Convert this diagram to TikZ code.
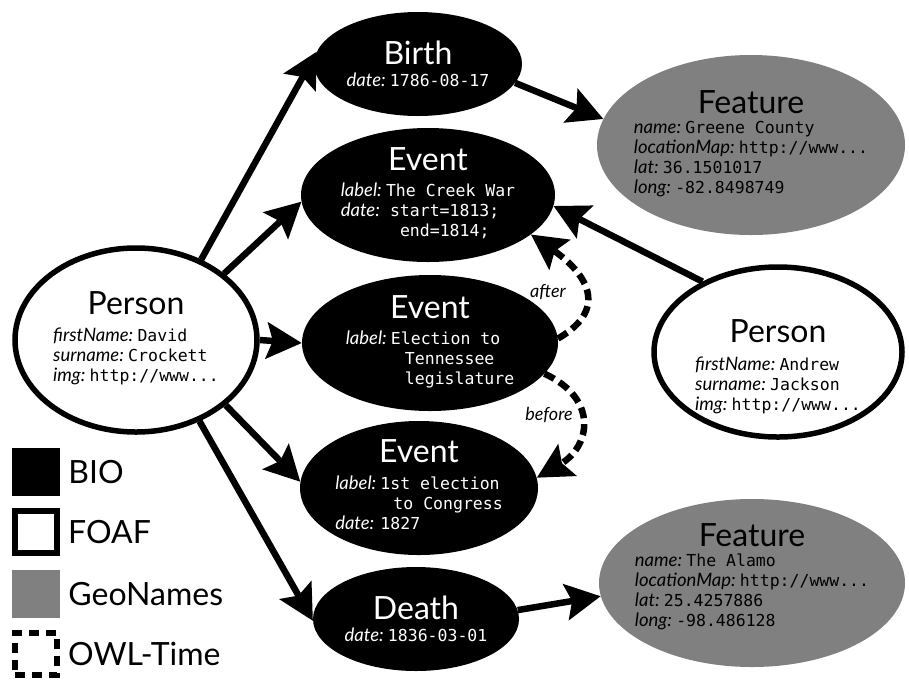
\documentclass[tikz,border=0pt]{standalone}
\usepackage{fontspec}
\setmainfont{Lato}
\setmonofont{DejaVu Sans Mono}
\usepackage{tikz}
\usetikzlibrary{positioning, arrows.meta, shapes.geometric}

\definecolor{geogray}{gray}{0.5}
\newcommand{\titlefont}{\fontsize{32}{36}\selectfont}
\newcommand{\bodyfont}{\fontsize{16.5}{20}\selectfont}
\newcommand{\keyfont}{\fontsize{18.5}{20}\selectfont\itshape}
\newcommand{\attr}[2]{{\keyfont #1:}~\texttt{#2}}
\newcommand{\attrkey}[1]{{\keyfont #1:}}

\tikzset{
    bio/.style={ellipse, fill=black, inner sep=0pt},
    foaf/.style={ellipse, draw=black, line width=5.5pt, fill=white, inner sep=0pt},
    geo/.style={ellipse, fill=geogray, inner sep=0pt},
    info/.style={align=center, font=\bodyfont, inner sep=0pt},
    arrow/.style={-{Stealth[length=35pt, width=36pt, inset=6pt]}, line width=6.5pt},
    timearrow/.style={arrow, dash pattern=on 11pt off 6pt},
    tag/.style={font=\fontsize{18}{20}\selectfont\itshape},
    keybox/.style={minimum size=48pt, inner sep=0pt},
    keytext/.style={font=\titlefont, inner sep=0pt, anchor=west}
}

\begin{document}
\begin{tikzpicture}[x=1pt, y=1pt]
    \useasboundingbox (0,0) rectangle (909,-681);

    % People (FOAF)
    \node[foaf, minimum width=242pt, minimum height=184pt,
        label={[info, name=crockett-text]center:{{\titlefont Person}\\[7pt]
            \begin{tabular}[t]{@{}l@{}}
            \attr{firstName}{David}\\
            \attr{surname}{Crockett}\\
            \attr{img}{http://www...}
            \end{tabular}}}] (crockett) at (136,-340) {};

    \node[foaf, minimum width=248pt, minimum height=170pt,
        label={[info, name=jackson-text, yshift=-16pt]center:{{\titlefont Person}\\[8pt]
            \begin{tabular}[t]{@{}l@{}}
            \attr{firstName}{Andrew}\\
            \attr{surname}{Jackson}\\
            \attr{img}{http://www...}
            \end{tabular}}}] (jackson) at (778,-352) {};

    % Life events (BIO)
    \node[bio, minimum width=208pt, minimum height=104pt,
        label={[info, text=white, name=birth-text]center:{{\titlefont Birth}\\[2pt]
            \attr{date}{1786-08-17}}}] (birth) at (418,-64) {};

    \node[bio, minimum width=254pt, minimum height=134pt,
        label={[info, text=white, name=creek-text]center:{{\titlefont Event}\\[6pt]
            \begin{tabular}[t]{@{}l@{~}l@{}}
            \attrkey{label} & \texttt{The Creek War}\\
            \attrkey{date} & \texttt{\hspace{4pt}start=1813;}\\
             & \texttt{\hspace{14pt}end=1814;}
            \end{tabular}}}] (creek) at (428,-195) {};

    \node[bio, minimum width=256pt, minimum height=136pt,
        label={[info, text=white, name=election-text]center:{{\titlefont Event}\\[6pt]
            \begin{tabular}[t]{@{}l@{~}l@{}}
            \attrkey{label} & \texttt{Election to}\\
             & \texttt{\hspace{14pt}Tennessee}\\
             & \texttt{\hspace{14pt}legislature}
            \end{tabular}}}] (election) at (430,-343) {};

    \node[bio, minimum width=238pt, minimum height=134pt,
        label={[info, text=white, name=congress-text]center:{{\titlefont Event}\\[7pt]
            \begin{tabular}[t]{@{}l@{~}l@{}}
            \attrkey{label} & \texttt{1st election}\\
             & \texttt{\hspace{13pt}to Congress}\\
            \attrkey{date} & \texttt{1827}
            \end{tabular}}}] (congress) at (419,-488) {};

    \node[bio, minimum width=206pt, minimum height=104pt,
        label={[info, text=white, name=death-text]center:{{\titlefont Death}\\[2pt]
            \attr{date}{1836-03-01}}}] (death) at (416,-619) {};

    % Places (GeoNames)
    \node[geo, minimum width=308pt, minimum height=180pt,
        label={[info, name=greene-text]center:{{\titlefont Feature}\\[0pt]
            \begin{tabular}[t]{@{}l@{}}
            \attr{name}{Greene County}\\
            \attr{locationMap}{http://www...}\\
            \attr{lat}{36.1501017}\\
            \attr{long}{-82.8498749}
            \end{tabular}}}] (greene) at (751,-145) {};

    \node[geo, minimum width=306pt, minimum height=168pt,
        label={[info, name=alamo-text, yshift=5pt]center:{{\titlefont Feature}\\[0pt]
            \begin{tabular}[t]{@{}l@{}}
            \attr{name}{The Alamo}\\
            \attr{locationMap}{http://www...}\\
            \attr{lat}{25.4257886}\\
            \attr{long}{-98.486128}
            \end{tabular}}}] (alamo) at (752,-583) {};

    % Links
    \draw[arrow] (crockett.51) -- (birth.173);
    \draw[arrow] (crockett.37) -- (creek.183);
    \draw[arrow] (crockett.east) -- (election.west);
    \draw[arrow] (crockett.-36) -- (congress.177);
    \draw[arrow] (crockett.-52) -- (death.181);
    \draw[arrow] (birth.-11) -- (greene.170);
    \draw[arrow] (death.5) -- (alamo.185);
    \draw[arrow] (jackson.137) -- (creek.-5);

    % Time relations (OWL-Time)
    \draw[timearrow] (election.2) to[out=30, in=-35, looseness=1.5] (creek.-21);
    \draw[timearrow] (election.-15) to[out=-25, in=30, looseness=1.5] (congress.5);
    \node[tag] (after-tag) at (548,-292) {after};
    \node[tag] (before-tag) at (549,-415) {before};

    % Legend
    \node[keybox, fill=black] (bio-key) at (36,-472) {};
    \node[keytext, right=8pt of bio-key] (bio-name) {BIO};
    \node[keybox, draw=black, line width=6pt, minimum size=42pt, fill=white] (foaf-key) at (36,-532) {};
    \node[keytext, right=8pt of foaf-key] (foaf-name) {FOAF};
    \node[keybox, fill=geogray] (geo-key) at (36,-594) {};
    \node[keytext, right=8pt of geo-key] (geo-name) {GeoNames};
    \node[keybox, draw=black, line width=6pt, minimum size=42pt, dash pattern=on 10pt off 7pt] (time-key) at (36,-654) {};
    \node[keytext, right=8pt of time-key] (time-name) {OWL-Time};
\end{tikzpicture}
\end{document}
